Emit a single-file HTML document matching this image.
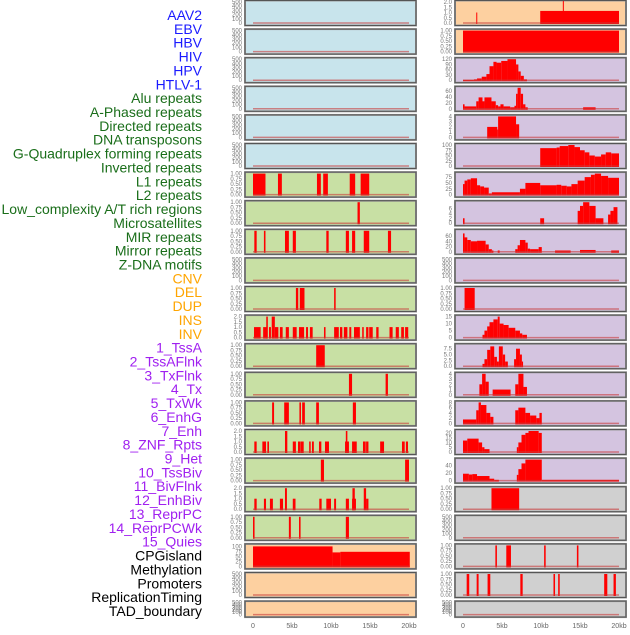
<!DOCTYPE html>
<html><head><meta charset="utf-8"><style>
body{margin:0;background:#fff;width:630px;height:630px;overflow:hidden;font-family:"Liberation Sans",sans-serif}
</style></head><body>
<svg id="c" width="630" height="630" xmlns="http://www.w3.org/2000/svg"></svg>
<script>
const labels=["AAV2","EBV","HBV","HIV","HPV","HTLV-1","Alu repeats","A-Phased repeats","Directed repeats","DNA transposons","G-Quadruplex forming repeats","Inverted repeats","L1 repeats","L2 repeats","Low_complexity A/T rich regions","Microsatellites","MIR repeats","Mirror repeats","Z-DNA motifs","CNV","DEL","DUP","INS","INV","1_TssA","2_TssAFlnk","3_TxFlnk","4_Tx","5_TxWk","6_EnhG","7_Enh","8_ZNF_Rpts","9_Het","10_TssBiv","11_BivFlnk","12_EnhBiv","13_ReprPC","14_ReprPCWk","15_Quies","CPGisland","Methylation","Promoters","ReplicationTiming","TAD_boundary"];
const labelGroups=[6,13,5,15,5];
const groupColors=["#1a1aff","#1a6e1a","#ffa500","#a020f0","#000000"];
const xTicks=[0,5,10,15,20];
const xTickLabels=["0","5kb","10kb","15kb","20kb"];
const T500=[0,100,200,300,400,500], T1=[0,0.25,0.5,0.75,1], T2=[0,0.5,1,1.5,2];
const leftBg=["#c8e4ec","#c8e4ec","#c8e4ec","#c8e4ec","#c8e4ec","#c8e4ec","#c8e0a4","#c8e0a4","#c8e0a4","#c8e0a4","#c8e0a4","#c8e0a4","#c8e0a4","#c8e0a4","#c8e0a4","#c8e0a4","#c8e0a4","#c8e0a4","#c8e0a4","#fdd0a0","#fdd0a0","#fdd0a0"];
const rightBg=["#fdd0a0","#fdd0a0","#d4c4e0","#d4c4e0","#d4c4e0","#d4c4e0","#d4c4e0","#d4c4e0","#d4c4e0","#d4c4e0","#d4c4e0","#d4c4e0","#d4c4e0","#d4c4e0","#d4c4e0","#d4c4e0","#d4c4e0","#d0d0d0","#d0d0d0","#d0d0d0","#d0d0d0","#d0d0d0"];
const leftTicks=[T500,T500,T500,T500,T500,T500,T1,T1,T1,T500,T1,T2,T1,T1,T1,T2,T1,T2,T1,[0,25,50,75,100],T500,T500];
const leftMax=[500,500,500,500,500,500,1,1,1,500,1,2,1,1,1,2,1,2,1,105,500,500];
const leftSegs=[[],[],[],[],[],[],
[[0,1.6,1],[3.2,3.7,1],[8.2,8.7,1],[9.0,9.6,1],[12.4,13.1,1],[13.8,14.9,1]],
[[13.4,13.7,1]],
[[0.17,0.47,1],[1.4,1.6,1],[4.1,4.6,1],[5.1,5.5,1],[9.4,9.7,1],[11.9,12.3,1],[12.7,13.1,1],[14.2,14.9,1],[17.3,17.7,1]],
[],
[[5.5,5.8,1],[6.0,6.6,1],[10.4,10.6,1]],
[[0.13,0.98,1],[1.3,1.8,1],[1.7,1.9,2],[2.05,2.3,1],[2.4,2.8,2],[2.8,3.25,1],[3.45,3.8,1],[4.2,4.6,1],[5.1,5.6,1],[5.9,6.55,1],[6.8,7.05,1],[7.3,7.65,1],[9.1,9.3,1],[10.4,11.0,1],[11.15,11.45,1],[11.65,12.1,1],[12.35,12.6,1],[12.95,13.7,1],[14.0,14.2,1],[14.5,14.8,1],[14.9,15.35,1],[15.8,16.1,1],[17.5,17.9,1],[18.3,18.7,1],[19.0,19.35,1],[19.5,19.9,1]],
[[8.1,9.2,1]],
[[12.3,12.7,1],[17.0,17.3,1]],
[[2.45,2.7,1],[4.0,4.6,1],[5.95,6.15,1],[6.3,6.65,1],[8.1,8.45,1],[12.8,13.2,1]],
[[0.17,0.47,1],[1.2,1.67,1],[1.84,2.05,1],[4.1,4.4,2],[5.1,5.5,1],[5.77,6.07,1],[6.1,6.5,1],[7.2,7.4,1],[7.56,7.8,1],[8.46,8.76,1],[9.23,9.74,1],[11.8,12.3,1],[11.9,12.1,2],[12.7,13.3,1],[14.1,14.45,1],[14.5,14.8,1],[16.3,16.8,1],[19.1,19.45,1],[19.6,19.87,1]],
[[8.7,9.1,1],[19.5,20.0,1]],
[[0.17,0.47,1],[1.4,1.67,1],[2.17,2.55,1],[3.45,3.85,1],[4.1,4.35,2],[5.1,5.45,1],[8.5,8.8,1],[9.4,10.0,1],[10.4,10.65,1],[11.9,12.3,1],[12.7,13.2,1],[12.75,13.05,2],[14.2,14.5,2],[14.5,14.8,1]],
[[0,0.2,1],[4.6,4.85,1],[5.9,6.1,1],[11.9,12.3,1]],
[[0,10.2,100],[10.2,11.2,70],[11.2,20.1,73]],
[],[]];
const rightTicks=[T2,T1,[0,30,60,90,120],[0,20,40,60],[0,1,2,3,4],[0,25,50,75,100],[0,25,50,75],[0,2,4,6],[0,20,40,60],T500,T1,[0,5,10,15],[0,2.5,5,7.5],[0,1,2,3,4],[0,2,4,6,8],[0,5,10,15,20],[0,20,40],T1,T500,T1,T1,T500];
const rightMax=[2,1,120,70,4,100,90,8.5,80,500,1,15,9,4,8,22,55,1,500,1,1,500];
const rightSegs=[
[[1.7,1.8,1],[9.9,20,1.15],[12.8,12.9,2.1]],
[[0,20,1]],
[[0,1.4,2],[1.4,1.8,5],[1.8,2.4,10],[2.4,3,20],[3,3.4,35],[3.4,3.9,80],[3.9,4.3,105],[4.3,4.9,100],[4.9,5.7,110],[5.7,6.8,120],[6.8,7.1,90],[7.1,7.4,50],[7.4,7.8,25],[7.8,8.2,5]],
[[0,0.2,15],[0.2,1.7,8],[1.7,2.0,25],[2.0,2.5,38],[2.5,2.75,25],[2.75,3.65,38],[3.65,4.2,25],[4.2,4.5,12],[4.5,4.8,8],[4.8,5.2,15],[5.2,6.05,8],[6.05,6.6,5],[6.6,6.8,10],[6.8,7.0,50],[7.0,7.4,70],[7.4,7.7,50],[7.7,8.0,15],[8.0,8.3,5],[15.4,17.0,5]],
[[3.1,4.4,2],[4.4,4.5,1.5],[4.5,6.8,4],[6.8,7.2,2.5]],
[[9.9,12.0,85],[12.0,12.4,88],[12.4,13.5,95],[13.5,14.3,100],[14.3,15.0,90],[15.0,15.6,75],[15.6,16.2,65],[16.2,16.9,50],[16.9,17.7,45],[17.7,18.3,55],[18.3,19.0,65],[19.0,20,60]],
[[0,0.2,45],[0.2,0.55,60],[0.55,1.0,65],[1.0,1.8,70],[1.8,2.2,40],[2.2,2.7,35],[2.7,3.3,30],[3.3,3.7,5],[3.7,7.3,10],[7.3,8.0,25],[8.0,9.9,50],[9.9,12,40],[12,12.6,42],[12.6,13.3,38],[13.3,13.9,35],[13.9,14.7,45],[14.7,15.6,60],[15.6,16.4,75],[16.4,16.9,85],[16.9,17.7,90],[17.7,18.6,80],[18.6,20,72]],
[[0,0.2,2],[9.9,10.4,2],[14.7,15.0,5],[15.0,15.4,7],[15.4,16.2,8.5],[16.2,17.0,7],[17.0,18.0,2],[18.6,18.9,3.5],[18.9,19.3,5],[19.3,19.8,6.5]],
[[0,0.2,70],[0.2,0.55,55],[0.55,1,45],[1,1.8,40],[1.8,2.9,42],[2.9,3.3,28],[3.3,3.7,10],[3.7,3.9,5],[4.45,4.7,5],[6.7,7.0,10],[7.0,7.3,25],[7.3,8.0,45],[8.0,8.3,35],[8.3,8.6,12],[8.6,9.7,10],[9.7,10.1,18],[11.8,13.8,5],[15,17,7],[19,20,5]],
[],
[[0.2,1.5,1]],
[[2.5,2.75,2],[2.75,3.1,5],[3.1,3.4,8],[3.4,3.9,11],[3.9,4.45,13],[4.45,4.7,15],[4.7,5.2,10],[5.2,5.85,9],[5.85,6.7,7],[6.7,7.3,5],[7.3,7.6,3],[7.6,8.2,2]],
[[2.5,2.75,1],[2.75,3.1,3],[3.1,3.5,7],[3.5,4.0,8.5],[4.0,4.35,4],[4.35,4.6,2],[4.6,5.1,8.5],[5.1,5.4,5],[5.4,5.75,2],[6.55,6.8,3],[6.8,7.3,7.5],[7.3,7.55,5],[7.55,7.7,2]],
[[2.1,2.45,2],[2.45,2.9,4],[2.9,3.3,2.5],[3.8,6.1,1],[6.7,7.1,2],[7.1,7.75,4],[7.75,8.2,1.5]],
[[0,1.7,1.5],[1.7,2.0,5],[2.0,2.3,8],[2.3,3.0,7],[3.0,3.5,4],[3.5,3.9,2.5],[6.7,7.1,5],[7.1,8.0,6],[8.0,8.6,4],[8.6,9.4,3],[9.4,9.8,2],[9.8,10.1,4]],
[[0,0.55,12],[0.55,2.0,14],[2.0,2.45,10],[2.45,2.75,5],[2.75,3.4,3],[6.9,7.1,5],[7.1,7.5,10],[7.5,8.0,18],[8.0,8.4,20],[8.4,9.7,22],[9.7,10.1,20]],
[[0,0.75,18],[0.75,1.2,16],[1.2,1.8,17],[1.8,3.4,12],[3.4,4.0,5],[4.0,4.6,2],[6.9,7.1,15],[7.1,7.5,30],[7.5,8.0,45],[8.0,10.1,55],[10.1,20,2]],
[[3.65,7.2,1]],
[],
[[4.15,4.35,1],[5.55,6.15,1],[10.4,10.6,1],[14.6,14.8,1]],
[[0.47,0.8,1],[1.75,2.0,1],[3.15,3.5,1],[7.35,7.65,1],[11.6,11.8,1],[12.2,12.4,1],[18.1,18.5,1],[19.3,19.6,1]],
[]];

const NS="http://www.w3.org/2000/svg";
const svg=document.getElementById('c');
function mk(t,a,p){const e=document.createElementNS(NS,t);for(const k in a)e.setAttribute(k,a[k]);(p||svg).appendChild(e);return e;}
let li=0;
labelGroups.forEach((n,g)=>{for(let i=0;i<n&&li<labels.length;i++){const t=mk('text',{x:202,y:15+li*13.86+5,'text-anchor':'end','font-size':14,fill:groupColors[g]});t.textContent=labels[li];

li++;}});
const rowTop=i=>i*28.6;
function panel(px,i,bg,ticks,max,segs,side){
  const top=rowTop(i), h=(i==21?16:25), w=171;
  const g=mk('g',{});
  
  
  mk('rect',{x:px,y:top+0.5,width:w,height:h,fill:bg,stroke:'#9a9a9a','stroke-width':2},g);
  mk('rect',{x:px,y:top+0.5,width:w,height:h,fill:'none',stroke:'#555','stroke-width':1},g);
  const x0=px+8, sx=7.8;
  const y0=top+h-2, y1=top+2;
  const ys=v=>y0-(v/max)*(y0-y1);
  const xs=k=>x0+k*sx;
  segs.forEach(s=>{const r=mk('rect',{x:xs(s[0]),y:ys(s[2]),width:Math.max(1,xs(s[1])-xs(s[0])),height:y0-ys(s[2])+1,fill:'#ff0000'},g);
    
    });
  mk('line',{x1:xs(0),x2:xs(20),y1:y0,y2:y0,stroke:'rgba(200,60,60,0.6)','stroke-width':1.5},g);
  const last=ticks[ticks.length-1];
  ticks.forEach(t=>{const tx=mk('text',{x:px-3,y:ys(t)+2,'text-anchor':'end','font-size':6,fill:'#777'},g);
    tx.textContent=(last==1)?t.toFixed(2):((last==2||ticks[1]==2.5)?t.toFixed(1):String(t));});
}
for(let i=0;i<22;i++){
  panel(245,i,leftBg[i],leftTicks[i],leftMax[i],leftSegs[i],'left');
  panel(455,i,rightBg[i],rightTicks[i],rightMax[i],rightSegs[i],'right');
}
[253,463].forEach((x0,ci)=>{xTicks.forEach((k,j)=>{const t=mk('text',{x:x0+k*7.8,y:628,'text-anchor':'middle','font-size':7,fill:'#666'});t.textContent=xTickLabels[j];

});});
</script>
</body></html>
